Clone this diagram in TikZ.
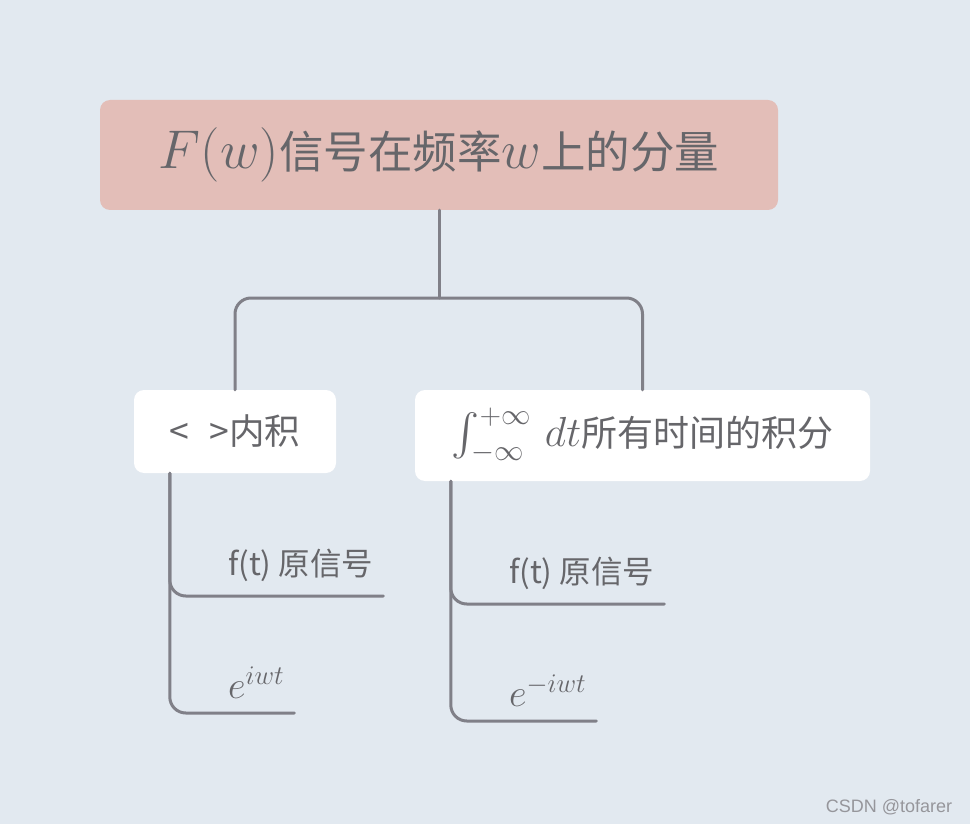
\RequirePackage{fix-cm}
\documentclass[tikz,border=0pt]{standalone}
\usepackage[no-math]{fontspec}
\DeclareFontShape{OMX}{cmex}{m}{n}{<-> cmex10}{}
\setmainfont{Noto Sans CJK SC}
\newfontfamily\wmfont{Liberation Sans}
\definecolor{bgc}{RGB}{226,233,240}
\definecolor{rootc}{RGB}{227,190,184}
\definecolor{linec}{RGB}{128,128,136}
\definecolor{txtc}{RGB}{102,102,106}
\definecolor{wmc}{RGB}{150,150,155}
\newcommand{\fsz}[1]{\fontsize{#1}{#1}\selectfont}
\tikzset{
  rootbox/.style={fill=rootc, rounded corners=10, minimum width=678, minimum height=110, text=txtc, inner sep=0},
  childbox/.style={fill=white, rounded corners=10, text=txtc, inner sep=0},
  leafnode/.style={anchor=south west, text=txtc, inner xsep=10, inner ysep=14},
  conn/.style={draw=linec, line width=3, line cap=round, rounded corners=16},
}
\begin{document}
\begin{tikzpicture}[x=1pt,y=-1pt]
\fill[bgc] (0,0) rectangle (970,824);
\useasboundingbox (0,0) rectangle (970,824);
\node[rootbox] (root) at (439,155) {\raisebox{-3pt}{\fsz{44.5}{\fsz{54.5}$F(w)$}信号在频率{\fsz{54.5}$w$}上的分量}};
\node[childbox, minimum width=202, minimum height=83] (c1) at (235,431.5) {\fsz{35.5}<\,\, >内积};
\node[childbox, minimum width=455, minimum height=91] (c2) at (642.5,435.5) {\fsz{36}{\fsz{42}$\int_{-\infty}^{+\infty}\,dt$}所有时间的积分};
\coordinate (mid) at (439,298);
\draw[conn] (root.south) -- (mid);
\draw[conn] (c1.north) |- (mid) -| (c2.north);
\node[leafnode] (l1a) at (218,596) {\fsz{31.5}f(t) 原信号};
\node[leafnode] (l1b) at (218,713) {\fsz{38.5}$e^{iwt}$};
\node[leafnode] (l2a) at (499,604) {\fsz{31.5}f(t) 原信号};
\node[leafnode] (l2b) at (499,721) {\fsz{38.5}$e^{-iwt}$};
\coordinate (t1) at ([xshift=36]c1.south west);
\coordinate (t2) at ([xshift=36]c2.south west);
\draw[conn] (t1) |- (l1a.south east);
\draw[conn] (t1) |- (l1b.south east);
\draw[conn] (t2) |- (l2a.south east);
\draw[conn] (t2) |- (l2b.south east);
\node[text=wmc, font=\wmfont\fsz{18}] (wm) at (889,807) {CSDN @tofarer};
\end{tikzpicture}
\end{document}
